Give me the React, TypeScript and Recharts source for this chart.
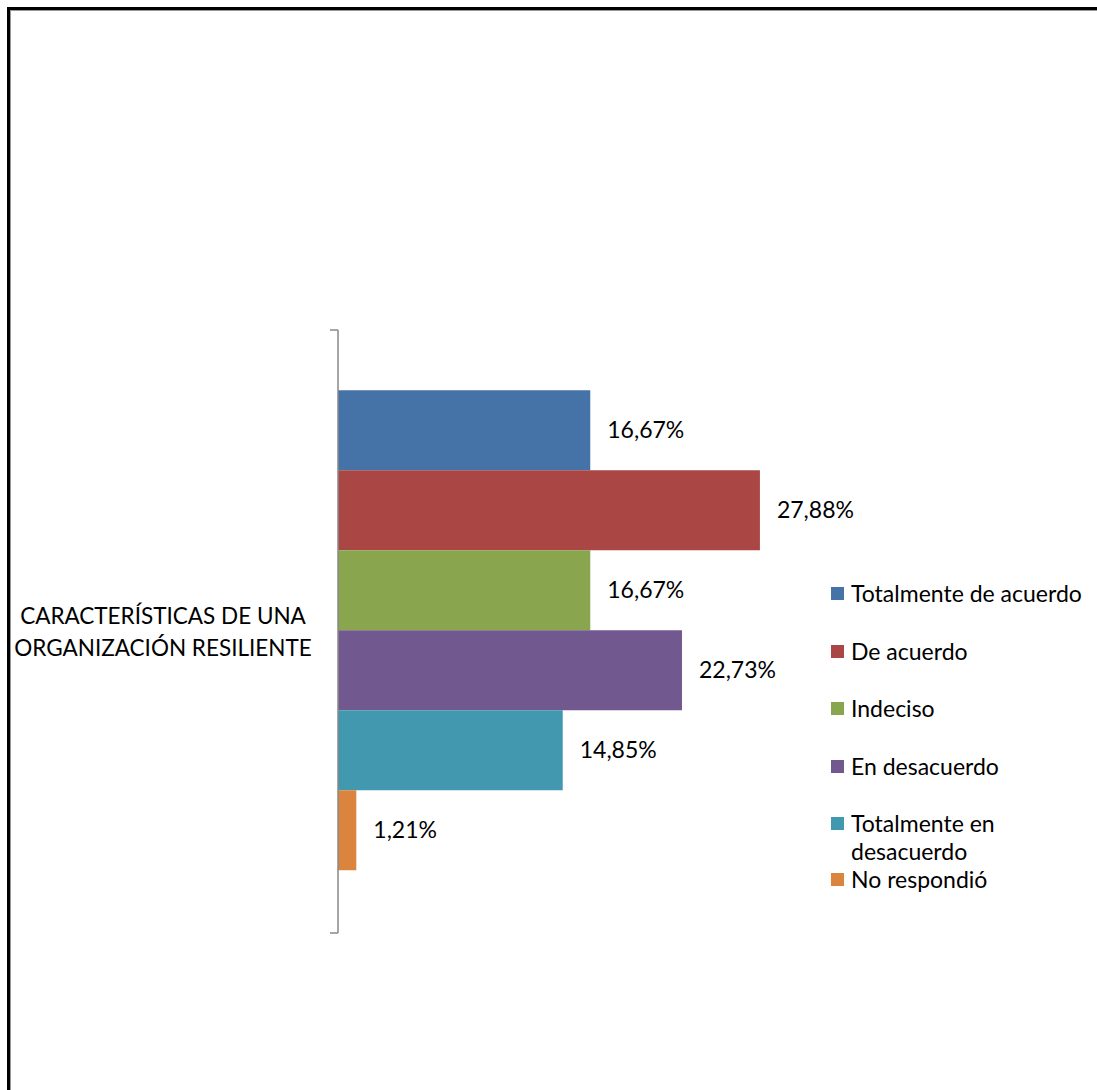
import React from 'react';
import { BarChart, Bar, XAxis, YAxis, LabelList, Legend } from 'recharts';

const categories = ['CARACTERÍSTICAS DE UNA ORGANIZACIÓN RESILIENTE'];
const seriesNames = [
  'Totalmente de acuerdo',
  'De acuerdo',
  'Indeciso',
  'En desacuerdo',
  'Totalmente en desacuerdo',
  'No respondió',
];
const seriesValues = [16.67, 27.88, 16.67, 22.73, 14.85, 1.21];
const seriesColors = ['#4572A7', '#AA4643', '#89A54E', '#71588F', '#4198AF', '#DB843D'];
const xDomain = [0, 30];

const FONT = 'Lato, sans-serif';
const FS = 23;
const W = 1097;
const H = 1090;
const M = { top: 330, right: 305, bottom: 157, left: 0 };
const YAXIS_W = 338;

const data = categories.map((name) => {
  const row: Record<string, any> = { name };
  seriesNames.forEach((s, i) => {
    row['s' + i] = seriesValues[i];
  });
  return row;
});

const fmt = (v: any) => Number(v).toFixed(2).replace('.', ',') + '%';

function wrap(text: string, max: number): string[] {
  const words = text.split(' ');
  const lines: string[] = [];
  let cur = '';
  for (const w of words) {
    const next = cur ? cur + ' ' + w : w;
    if (next.length > max && cur) {
      lines.push(cur);
      cur = w;
    } else cur = next;
  }
  if (cur) lines.push(cur);
  return lines;
}

const CatTick = (props: any) => {
  const { x, y, payload } = props;
  const lines = wrap(String(payload.value), 23);
  const lh = 32;
  const cx = x - 167;
  return (
    <g>
      {lines.map((l, i) => (
        <text
          key={i}
          x={cx}
          y={y + (i - (lines.length - 1) / 2) * lh}
          textAnchor="middle"
          dominantBaseline="central"
          fill="#000"
          style={{ fontFamily: FONT, fontSize: 22.5 }}
        >
          {l}
        </text>
      ))}
    </g>
  );
};

const LegendContent = () => (
  <div style={{ fontFamily: FONT, fontSize: FS, lineHeight: '28px', color: '#000', width: 262 }}>
    {seriesNames.map((n, i) => (
      <div
        key={n}
        style={{ display: 'flex', alignItems: 'flex-start', marginBottom: i < 4 ? 29.5 : 0 }}
      >
        <div
          style={{
            width: 13,
            height: 13,
            background: seriesColors[i],
            marginTop: 8,
            marginRight: 7,
            flex: '0 0 auto',
          }}
        />
        <div style={{ width: 236 }}>{n}</div>
      </div>
    ))}
  </div>
);

export default function App() {
  const axisX = M.left + YAXIS_W;
  const plotTop = M.top;
  const plotBottom = H - M.bottom;
  return (
    <div
      style={{
        position: 'fixed',
        left: 0,
        top: 0,
        width: W,
        height: H,
        overflow: 'hidden',
        background: '#fff',
      }}
    >
      <div
        style={{
          position: 'absolute',
          left: 7,
          top: 7,
          width: W + 20,
          height: H + 20,
          borderLeft: '3px solid #000',
          borderTop: '3px solid #000',
        }}
      >
        <div
          style={{
            width: '100%',
            height: '100%',
            borderLeft: '1px solid #999',
            borderTop: '1px solid #999',
          }}
        />
      </div>
      <div style={{ position: 'absolute', left: 0, top: 0 }}>
        <BarChart
          layout="vertical"
          width={W}
          height={H}
          data={data}
          margin={M}
          barCategoryGap="10%"
          barGap={0}
        >
          <XAxis type="number" domain={xDomain} hide />
          <YAxis
            type="category"
            dataKey="name"
            width={YAXIS_W}
            axisLine={{ stroke: '#888888', strokeWidth: 1.5 }}
            tickLine={false}
            tick={<CatTick />}
          />
          <Legend
            layout="vertical"
            align="center"
            verticalAlign="middle"
            content={<LegendContent />}
            wrapperStyle={{ left: 831, top: 579, width: 262 }}
          />
          {seriesNames.map((n, i) => (
            <Bar
              key={n}
              dataKey={'s' + i}
              name={n}
              fill={seriesColors[i]}
              isAnimationActive={false}
            >
              <LabelList
                dataKey={'s' + i}
                position="right"
                offset={17}
                formatter={fmt}
                fill="#000"
                style={{ fontFamily: FONT, fontSize: FS }}
              />
            </Bar>
          ))}
        </BarChart>
      </div>
      <svg
        width={W}
        height={H}
        style={{ position: 'absolute', left: 0, top: 0, pointerEvents: 'none' }}
      >
        <line x1={axisX - 8} x2={axisX} y1={plotTop} y2={plotTop} stroke="#888888" strokeWidth={1.5} />
        <line x1={axisX - 8} x2={axisX} y1={plotBottom} y2={plotBottom} stroke="#888888" strokeWidth={1.5} />
      </svg>
    </div>
  );
}
